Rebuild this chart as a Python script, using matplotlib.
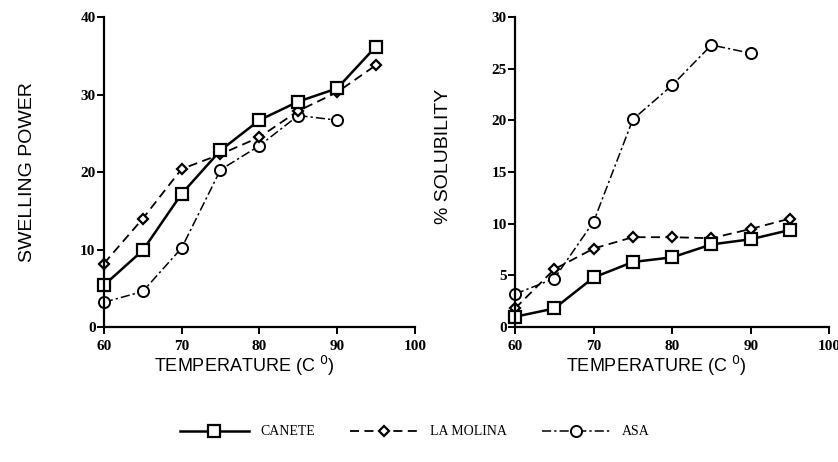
import matplotlib.pyplot as plt

temps = [60, 65, 70, 75, 80, 85, 90, 95]
temps_asa = [60, 65, 70, 75, 80, 85, 90]

# swelling power
sp_canete = [5.4, 9.9, 17.2, 22.8, 26.7, 29.1, 30.8, 36.2]
sp_molina = [8.2, 14.0, 20.4, 22.3, 24.5, 27.9, 30.3, 33.8]
sp_asa = [3.2, 4.6, 10.2, 20.3, 23.4, 27.3, 26.7]

# % solubility
sol_canete = [1.0, 1.8, 4.8, 6.3, 6.75, 8.0, 8.5, 9.4]
sol_molina = [1.8, 5.6, 7.6, 8.7, 8.7, 8.6, 9.5, 10.5]
sol_asa = [3.2, 4.7, 10.2, 20.1, 23.4, 27.3, 26.5]

serif = 'Liberation Serif'
sans = 'Liberation Sans'

fig = plt.figure(figsize=(8.38, 4.62), dpi=100)
ax1 = fig.add_axes([0.124, 0.292, 0.371, 0.671])
ax2 = fig.add_axes([0.6146, 0.292, 0.375, 0.671])

def style_axis(ax, ymax, ystep):
    for s in ['top', 'right']:
        ax.spines[s].set_visible(False)
    for s in ['left', 'bottom']:
        ax.spines[s].set_linewidth(1.6)
    ax.set_xlim(60, 100)
    ax.set_ylim(0, ymax)
    ax.set_xticks([60, 70, 80, 90, 100])
    ax.set_yticks(range(0, ymax + 1, ystep))
    ax.tick_params(direction='out', length=5, width=1.4, labelsize=11)
    for lab in ax.get_xticklabels() + ax.get_yticklabels():
        lab.set_fontfamily(serif)
        lab.set_fontweight('bold')
    ax.tick_params(axis='y', pad=1)
    ax.tick_params(axis='x', pad=4)
    ax.set_xlabel('TEMPERATURE (C $^{0}$)', fontfamily=sans, fontsize=13)
    ax.xaxis.set_label_coords(0.45, -0.085)

kw_c = dict(color='black', lw=1.8, ls='-', marker='s', ms=8, mfc='white', mew=1.6)
kw_m = dict(color='black', lw=1.3, ls=(0, (5, 3)), marker='D', ms=5.5, mfc='white', mew=1.6)
kw_a = dict(color='black', lw=1.1, ls=(0, (6, 2, 1.5, 2)), marker='o', ms=8, mfc='white', mew=1.4)

ax1.plot(temps_asa, sp_asa, clip_on=False, **kw_a)
ax1.plot(temps, sp_molina, clip_on=False, **kw_m)
ax1.plot(temps, sp_canete, clip_on=False, **kw_c)
style_axis(ax1, 40, 10)
ax1.set_ylabel('SWELLING POWER', fontfamily=sans, fontsize=14)
ax1.yaxis.set_label_coords(-0.22, 0.5)

ax2.plot(temps_asa, sol_asa, clip_on=False, **kw_a)
ax2.plot(temps, sol_molina, clip_on=False, **kw_m)
ax2.plot(temps, sol_canete, clip_on=False, **kw_c)
style_axis(ax2, 30, 5)
ax2.set_ylabel('% SOLUBILITY', fontfamily=sans, fontsize=14)
ax2.yaxis.set_label_coords(-0.2, 0.55)

h_c = plt.Line2D([], [], **kw_c)
h_m = plt.Line2D([], [], **kw_m)
h_a = plt.Line2D([], [], **kw_a)
fig.legend([h_c, h_m, h_a], ['CANETE', 'LA MOLINA', 'ASA'], loc='center',
           bbox_to_anchor=(0.495, 0.065), ncol=3, frameon=False, handlelength=5,
           columnspacing=2.5, prop={'family': serif, 'size': 10})

fig.savefig('out.png', dpi=100)
